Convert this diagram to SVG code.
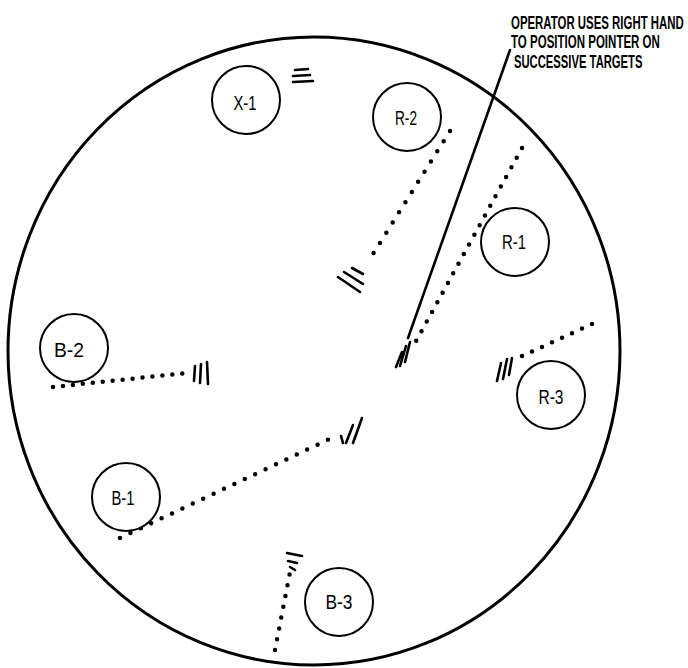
<svg xmlns="http://www.w3.org/2000/svg" width="688" height="668" viewBox="0 0 688 668">
<style>
.bg{fill:#fff}
.scope{fill:none;stroke:#000;stroke-width:3}
.node circle{fill:#fff;stroke:#000;stroke-width:2}
.node text{font-family:"Liberation Sans",Arial,sans-serif;font-size:21px;fill:#000;text-anchor:middle}
.track{fill:none;stroke:#000;stroke-width:4.5;stroke-linecap:round}
.tick{fill:none;stroke:#000;stroke-width:2.6;stroke-linecap:round}
.pointer{fill:none;stroke:#000;stroke-width:2.6;stroke-linecap:round}
.label{font-family:"Liberation Sans",Arial,sans-serif;font-size:18px;font-weight:bold;fill:#000}
</style>
<rect class="bg" x="0" y="0" width="688" height="668"/>
<ellipse id="scope" class="scope" cx="314" cy="351" rx="306" ry="314"/>

<g id="connectors">
  <!-- R-2 track -->
  <path class="track" d="M450,131 L368,262" stroke-dasharray="0 12"/>
  <path class="tick" d="M338,277 L360,292 M344,272 L363,284 M352,268 L363,274"/>
  <!-- R-1 track -->
  <path class="track" d="M522,148 L415,343" stroke-dasharray="0 11"/>
  <path class="tick" d="M396,367 L402,352 M400,366 L406,346 M405,362 L410,342"/>
  <!-- B-2 track -->
  <path class="track" d="M53,387 L186,373" stroke-dasharray="0 10"/>
  <path class="tick" d="M195,366 L194,381 M201,364 L200,383 M207,362 L208,384"/>
  <!-- R-3 track -->
  <path class="track" d="M592,324 L520,357" stroke-dasharray="0 11"/>
  <path class="tick" d="M497,381 L501,363 M503,379 L507,359 M509,375 L512,358"/>
  <!-- B-1 track -->
  <path class="track" d="M120,538 L338,435" stroke-dasharray="0 11.5"/>
  <path class="tick" d="M341,436 L343,443 M346,443 L353,425 M353,443 L362,418"/>
  <!-- B-3 track -->
  <path class="track" d="M275,650 L291,567" stroke-dasharray="0 11"/>
  <path class="tick" d="M287,553 L302,556 M288,561 L297,563 M290,567 L295,570"/>
  <!-- X-1 marks -->
  <path class="tick" d="M295,70 L308,69 M293,76 L310,75 M293,82 L313,81"/>
  <!-- pointer -->
  <path class="pointer" d="M510,50 L408,338"/>
</g>

<g id="node-X1" class="node"><circle cx="246" cy="100" r="34"/><text x="245" y="110" textLength="23" lengthAdjust="spacingAndGlyphs">X-1</text></g>
<g id="node-R2" class="node"><circle cx="407" cy="117" r="34"/><text x="406" y="125" textLength="22" lengthAdjust="spacingAndGlyphs">R-2</text></g>
<g id="node-R1" class="node"><circle cx="515" cy="242" r="34"/><text x="514" y="249" textLength="24" lengthAdjust="spacingAndGlyphs">R-1</text></g>
<g id="node-B2" class="node"><circle cx="74" cy="348" r="34"/><text x="69" y="357" textLength="30" lengthAdjust="spacingAndGlyphs">B-2</text></g>
<g id="node-R3" class="node"><circle cx="551" cy="395" r="34"/><text x="551" y="404" textLength="25" lengthAdjust="spacingAndGlyphs">R-3</text></g>
<g id="node-B1" class="node"><circle cx="126" cy="497" r="34"/><text x="123" y="505" textLength="23" lengthAdjust="spacingAndGlyphs">B-1</text></g>
<g id="node-B3" class="node"><circle cx="339" cy="602" r="34"/><text x="339" y="609" textLength="27" lengthAdjust="spacingAndGlyphs">B-3</text></g>

<g id="note">
  <text class="label" transform="translate(511,29) scale(0.635,1)">OPERATOR USES RIGHT HAND</text>
  <text class="label" transform="translate(511,48) scale(0.64,1)">TO POSITION POINTER ON</text>
  <text class="label" transform="translate(514,68) scale(0.625,1)">SUCCESSIVE TARGETS</text>
</g>
</svg>
